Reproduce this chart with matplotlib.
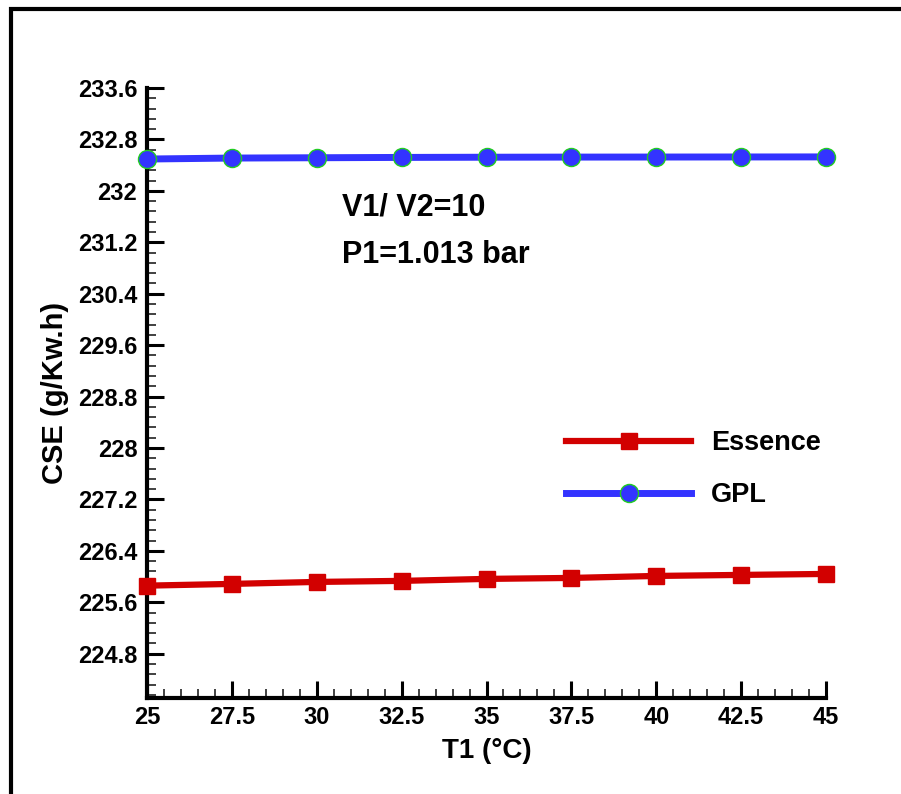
import numpy as np
import matplotlib.pyplot as plt
from matplotlib.patches import Rectangle
from matplotlib.ticker import MultipleLocator

plt.rcParams['font.family'] = ['Liberation Sans', 'DejaVu Sans']
plt.rcParams['font.weight'] = 'bold'

t1 = [25, 27.5, 30, 32.5, 35, 37.5, 40, 42.5, 45]
cse_essence = [225.858, 225.885, 225.916, 225.932, 225.963, 225.978, 226.009, 226.025, 226.04]
cse_gpl = [232.495, 232.51, 232.515, 232.52, 232.523, 232.525, 232.526, 232.527, 232.528]
x_ticks = [25, 27.5, 30, 32.5, 35, 37.5, 40, 42.5, 45]
y_ticks = [224.8, 225.6, 226.4, 227.2, 228, 228.8, 229.6, 230.4, 231.2, 232, 232.8, 233.6]

fig = plt.figure(figsize=(9.01, 7.94), dpi=100)
ax = fig.add_axes([147/901, 1-698/794, (826-147)/901, (698-88)/794])

# frame around the whole picture
fig.patches.append(Rectangle((11/901, -0.1), 1.2, 1 - 9.5/794 + 0.1, transform=fig.transFigure,
                             fill=False, lw=3, ec='black'))

ax.plot(t1, cse_essence, color='#d20000', lw=4.5, marker='s', ms=12,
        mfc='#d20000', mec='#d20000', label='Essence', clip_on=False, zorder=3)
ax.plot(t1, cse_gpl, color='#3333ff', lw=5, marker='o', ms=13,
        mfc='#3333ff', mec='#22cc22', mew=1, label='GPL', clip_on=False, zorder=3)

ax.set_xlim(25, 45)
ax.set_ylim(224.11, 233.6)
ax.set_xticks(x_ticks)
ax.set_xticklabels(['%g' % v for v in x_ticks])
ax.set_yticks(y_ticks)
ax.set_yticklabels(['%g' % v for v in y_ticks])
ax.xaxis.set_minor_locator(MultipleLocator(0.5))
ax.yaxis.set_minor_locator(MultipleLocator(0.16))

for s in ['top', 'right']:
    ax.spines[s].set_visible(False)
for s in ['left', 'bottom']:
    ax.spines[s].set_linewidth(3)

ax.tick_params(which='major', direction='in', length=12, width=2.2, labelsize=17, pad=7)
ax.tick_params(which='minor', direction='in', length=6.5, width=1.3, color='#333333')
ax.tick_params(axis='x', which='major', pad=6)

ax.set_xlabel('T1 (°C)', fontsize=20, fontweight='bold', labelpad=6)
ax.set_ylabel('CSE (g/Kw.h)', fontsize=21, fontweight='bold', labelpad=6)

ax.text(342/901, 1-208/794, 'V1/ V2=10', transform=fig.transFigure, fontsize=22,
        fontweight='bold', va='center', ha='left')
ax.text(342/901, 1-255/794, 'P1=1.013 bar', transform=fig.transFigure, fontsize=22,
        fontweight='bold', va='center', ha='left')

ax.legend(loc='upper left', bbox_to_anchor=(542/901, 1-406/794), bbox_transform=fig.transFigure,
          frameon=False, fontsize=19.5, handlelength=4.6, handletextpad=0.75, labelspacing=0.95)

fig.savefig('out.png', dpi=100)
